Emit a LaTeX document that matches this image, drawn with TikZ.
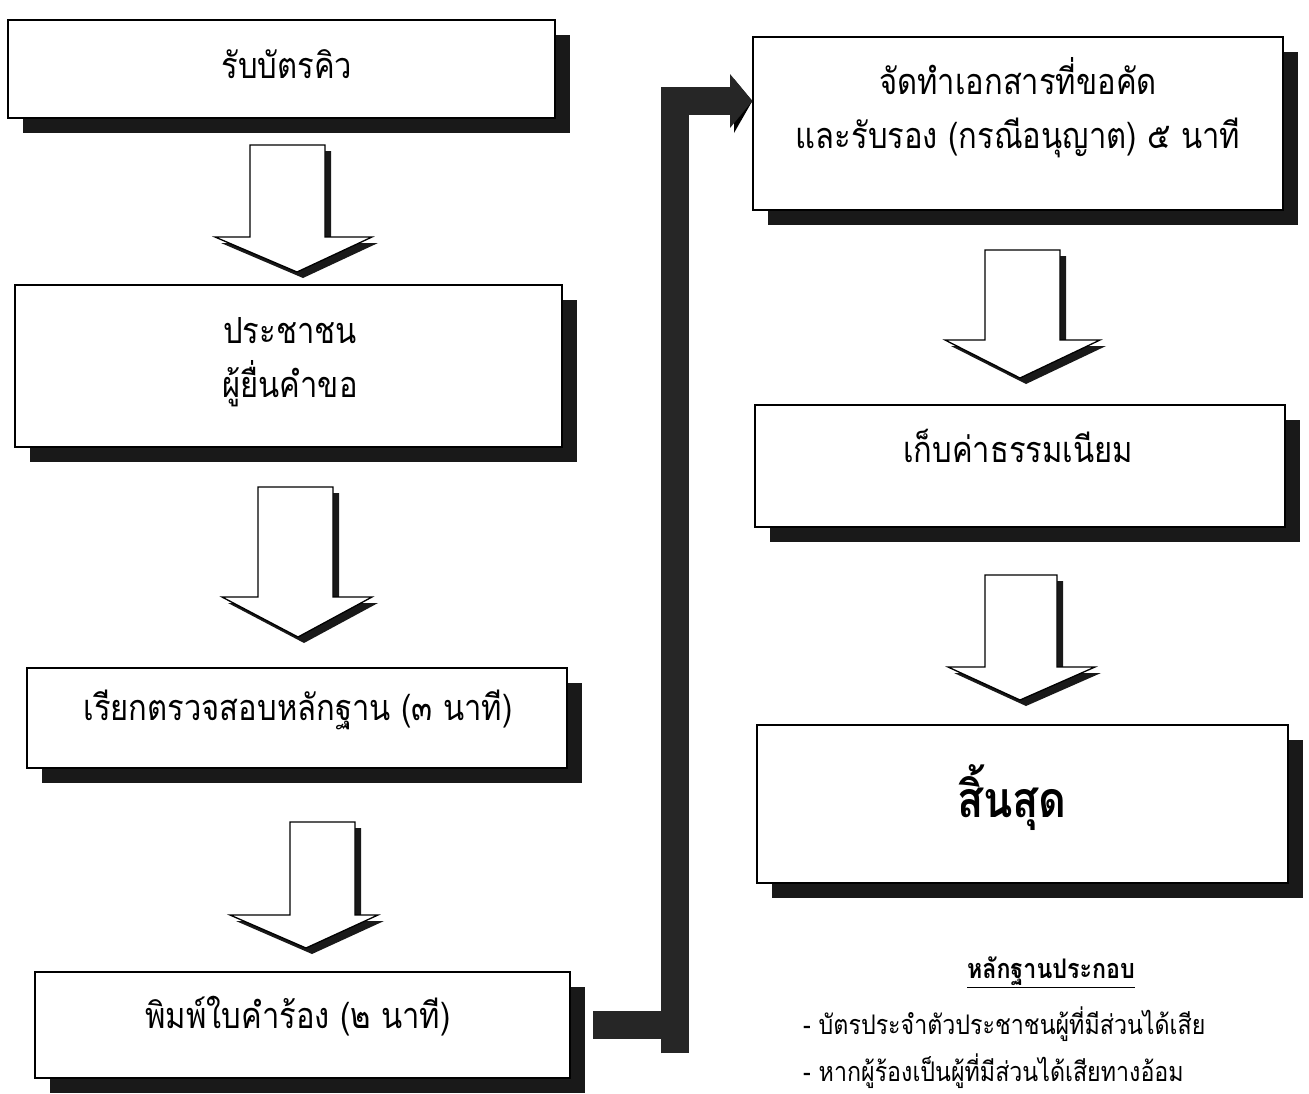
\documentclass[tikz,border=0pt]{standalone}
\usepackage{fontspec}
\newfontfamily\thai[Script=Thai, FakeStretch=0.86]{Loma}
\usetikzlibrary{shadows,calc}
\tikzset{
  box/.style={draw=black, line width=1.3pt, fill=white, rectangle, inner sep=0pt,
    drop shadow={shadow xshift=15pt, shadow yshift=-15pt, opacity=1, fill=black!90}},
  txt/.style={font=\thai\fontsize{36}{54}\selectfont, align=center, inner sep=0pt},
  evtxt/.style={font=\thai\fontsize{27}{30}\selectfont, inner sep=0pt},
  lconn/.style={line width=28pt, line join=miter, line cap=butt},
}
\newcommand\dnarrow[8]{%
  \fill[black!90, shift={(6,6)}] (#1,#3) -- (#2,#3) -- (#2,#4) -- (#6,#4) -- (#7,#8) -- (#5,#4) -- (#1,#4) -- cycle;
  \draw[line width=1.3pt, fill=white, line join=miter] (#1,#3) -- (#2,#3) -- (#2,#4) -- (#6,#4) -- (#7,#8) -- (#5,#4) -- (#1,#4) -- cycle;
}
\begin{document}
\begin{tikzpicture}[x=1pt,y=-1pt]
\useasboundingbox (0,0) rectangle (1309,1093);
% left column boxes
\node[box, minimum width=547pt, minimum height=98pt] (b1) at (281.5,69) {};
\node[box, minimum width=547pt, minimum height=162pt] (b2) at (288.5,366) {};
\node[box, minimum width=540pt, minimum height=100pt] (b3) at (297,718) {};
\node[box, minimum width=535pt, minimum height=106pt] (b4) at (302.5,1025) {};
% right column boxes
\node[box, minimum width=530pt, minimum height=173pt] (b5) at (1018,123.5) {};
\node[box, minimum width=530pt, minimum height=122pt] (b6) at (1020,466) {};
\node[box, minimum width=531pt, minimum height=158pt] (b7) at (1022.5,804) {};
% texts
\node[txt] (t1) at (287,64) {รับบัตรคิว};
\node[txt] (t2) at (290,362) {ประชาชน\\ผู้ยื่นคำขอ};
\node[txt] (t3) at (298,710) {เรียกตรวจสอบหลักฐาน (๓ นาที)};
\node[txt] (t4) at (298,1016) {พิมพ์ใบคำร้อง (๒ นาที)};
\node[txt] (t5) at (1018,108) {จัดทำเอกสารที่ขอคัด\\และรับรอง (กรณีอนุญาต) ๕ นาที};
\node[txt] (t6) at (1018,446) {เก็บค่าธรรมเนียม};
\node[txt, font=\thai\bfseries\fontsize{50}{56}\selectfont] (t7) at (1012,798) {สิ้นสุด};
% block arrows
\dnarrow{250}{325}{145}{237}{215}{372}{297}{272}
\dnarrow{258}{333}{487}{597}{222}{372}{298}{637}
\dnarrow{290}{355}{822}{915}{230}{378}{306}{948}
\dnarrow{985}{1060}{250}{340}{945}{1100}{1020}{378}
\dnarrow{985}{1057}{575}{667}{948}{1095}{1020}{700}
% L connector from b4 to b5
\coordinate (Ls) at (593,1025);
\coordinate (Lb) at (675,1025);
\coordinate (Ld) at (675,1053);
\coordinate (Lt) at (675,101);
\coordinate (Lh) at (730,101);
\coordinate (Lp) at (b5.west |- Lh);
\begin{scope}[shift={(4,5)}]
  \draw[lconn, black] (Ls) -- (Lb);
  \draw[lconn, black] (Ld) -- (Lt) -- (Lh);
  \fill[black] (730,74) -- (Lp) -- (730,128) -- cycle;
\end{scope}
\draw[lconn, black!85] (Ls) -- (Lb);
\draw[lconn, black!85] (Ld) -- (Lt) -- (Lh);
\fill[black!85] (730,74) -- (Lp) -- (730,128) -- cycle;
% evidence text
\node[evtxt, font=\thai\bfseries\fontsize{27}{30}\selectfont] (evh) at (1051,972) {\underline{หลักฐานประกอบ}};
\node[evtxt, anchor=west] (ev1) at (803,1024) {- บัตรประจำตัวประชาชนผู้ที่มีส่วนได้เสีย};
\node[evtxt, anchor=west] (ev2) at (803,1071) {- หากผู้ร้องเป็นผู้ที่มีส่วนได้เสียทางอ้อม};
\end{tikzpicture}
\end{document}
